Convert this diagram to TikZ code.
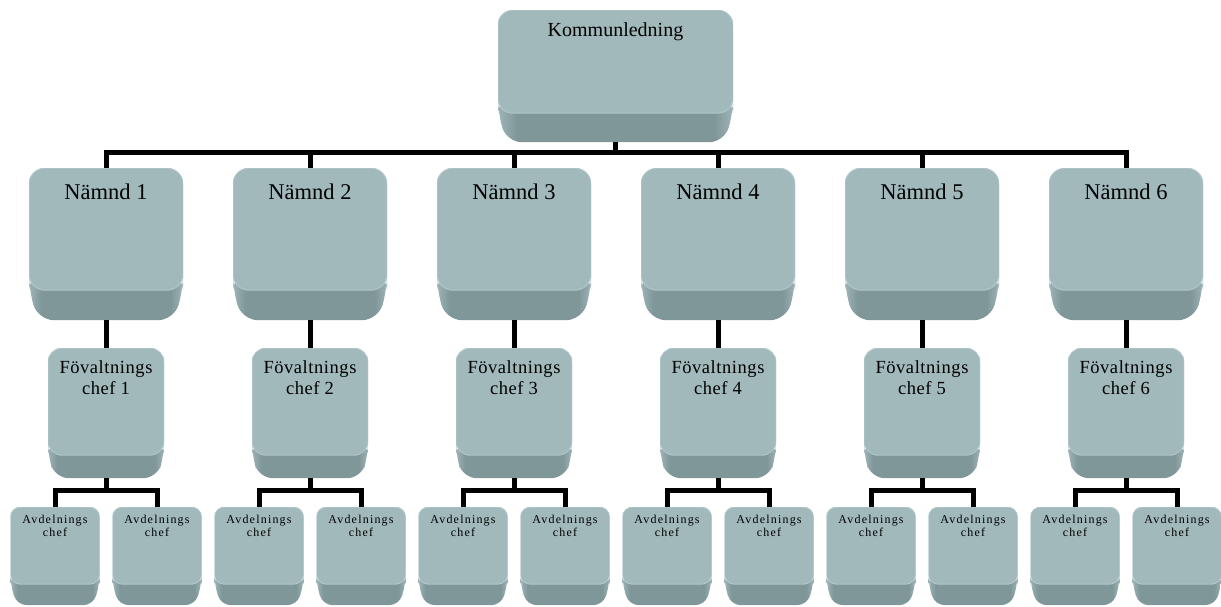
\documentclass[tikz,border=0pt]{standalone}
\usepackage{fontspec}
\usepackage{tikz}
\usetikzlibrary{calc}
\setmainfont{Liberation Serif}
\newfontfamily\chieffont[LetterSpace=3]{Liberation Serif}
\newfontfamily\avdfont[LetterSpace=10]{Liberation Serif}
\definecolor{facefill}{RGB}{161,185,187}
\definecolor{faceedge}{RGB}{176,198,200}
\definecolor{basefill}{RGB}{128,151,153}
\definecolor{baseedge}{RGB}{158,180,182}
\pgfdeclarehorizontalshading{basegrad}{100bp}{color(0bp)=(baseedge); color(25bp)=(baseedge);
	color(29bp)=(basefill); color(71bp)=(basefill); color(75bp)=(baseedge); color(100bp)=(baseedge)}
\tikzset{
	base h/.store in=\baseh, base h=20pt,
	corner r/.store in=\cornerr, corner r=10pt,
	orgbox/.style={rectangle, anchor=north, inner sep=0pt, align=center,
		path picture={
			\shade[shading=basegrad, rounded corners=\cornerr]
				let \p1=(path picture bounding box.north west), \p2=(path picture bounding box.south east) in
				(\x1,{\y2+\baseh+\cornerr}) -- (\x1,{\y2+\baseh}) -- ({\x1+0.3*\baseh},\y2)
				-- ({\x2-0.3*\baseh},\y2) -- (\x2,{\y2+\baseh}) -- (\x2,{\y2+\baseh+\cornerr}) -- cycle;
			\fill[facefill, draw=faceedge, line width=1pt, rounded corners=\cornerr]
				let \p1=(path picture bounding box.north west), \p2=(path picture bounding box.south east) in
				(\x1,\y1) rectangle (\x2,{\y2+\baseh});
		}},
	toplevel/.style={orgbox, minimum width=235pt, text height=26pt, text depth=106pt,
		base h=29pt, corner r=15pt, font=\fontsize{20}{24}\selectfont},
	namnd/.style={orgbox, minimum width=154pt, text height=31pt, text depth=121pt,
		base h=30pt, corner r=16pt, font=\fontsize{22.5}{27}\selectfont},
	chief/.style={orgbox, minimum width=116pt, text height=46pt, text depth=84pt,
		base h=23pt, corner r=14pt, font=\chieffont\fontsize{18.5}{21}\selectfont},
	avd/.style={orgbox, minimum width=89pt, text height=29pt, text depth=69pt,
		base h=21pt, corner r=10pt, font=\avdfont\fontsize{12}{13}\selectfont},
	wire/.style={line width=5pt}
}
\begin{document}
\begin{tikzpicture}[x=1pt,y=-1pt]
			\useasboundingbox (0,0) rectangle (1221,606);
			\node[toplevel] (top) at (615.5,10) {Kommunledning};
			\foreach \i in {1,...,6} {
				\node[namnd] (n\i) at ({106+204*(\i-1)},168) {Nämnd \i};
				\node[chief] (f\i) at ({106+204*(\i-1)},348) {Fövaltnings\\chef \i};
				\node[avd] (a\i1) at ({106+204*(\i-1)-51},507) {Avdelnings\\chef};
				\node[avd] (a\i2) at ({106+204*(\i-1)+51},507) {Avdelnings\\chef};
			}
			\foreach \i in {1,...,6} {
				\draw[wire] (top.south) -- ++(0,10) -| (n\i.north);
				\draw[wire] (n\i.south) -- (f\i.north);
				\draw[wire] (f\i.south) -- ++(0,12) -| (a\i1.north);
				\draw[wire] (f\i.south) -- ++(0,12) -| (a\i2.north);
			}
\end{tikzpicture}
\end{document}
